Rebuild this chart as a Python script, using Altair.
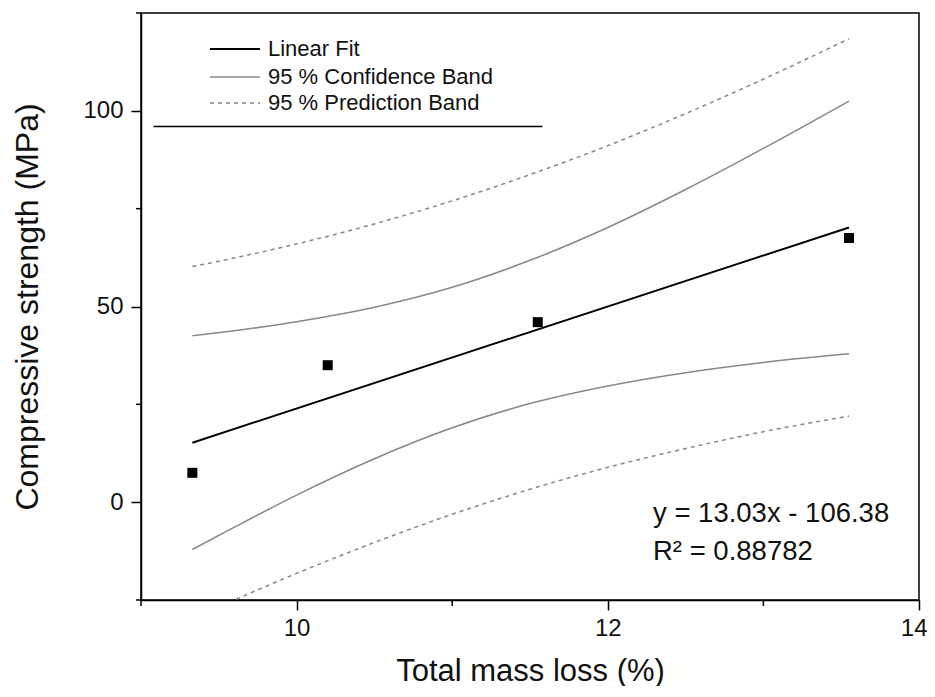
import altair as alt
import pandas as pd

# ---- data ----
mass_loss = [9.33, 10.2, 11.55, 13.55]
strength = [7.5, 35.0, 46.0, 67.5]

fit_x = [9.33, 13.55]
fit_y = [15.2, 70.2]

band_x = [9.33, 9.6, 10.0, 10.5, 11.0, 11.5, 12.0, 12.5, 13.0, 13.55]
conf_upper = [42.5, 43.8, 46.1, 49.8, 54.9, 61.8, 70.2, 79.9, 90.4, 102.5]
conf_lower = [-12.1, -6.4, 1.8, 11.1, 19.0, 25.2, 29.7, 33.1, 35.7, 37.9]
pred_upper = [60.2, 62.4, 66.0, 71.1, 77.0, 83.7, 91.1, 99.3, 108.1, 118.4]
pred_lower = [-29.8, -25.0, -18.2, -10.3, -3.1, 3.3, 8.9, 13.7, 18.0, 22.0]

divider_x = [9.08, 11.58]
divider_y = 96.0

x_major = [10, 12, 14]
x_minor = [9, 11, 13]
y_major = [0, 50, 100]
y_minor = [-25, 25, 75, 125]

legend_labels = ["Linear Fit", "95 % Confidence Band", "95 % Prediction Band"]
eq_text = "y = 13.03x - 106.38"
r2_text = "R\u00b2 = 0.88782"

x_title = "Total mass loss (%)"
y_title = "Compressive strength (MPa)"

FONT = "Liberation Sans"
GRAY = "#888888"

# ---- tables ----
pts = pd.DataFrame({"x": mass_loss, "y": strength})
fit = pd.DataFrame({"x": fit_x, "y": fit_y})
conf = pd.concat([
    pd.DataFrame({"x": band_x, "y": conf_upper, "part": "upper"}),
    pd.DataFrame({"x": band_x, "y": conf_lower, "part": "lower"}),
])
pred = pd.concat([
    pd.DataFrame({"x": band_x, "y": pred_upper, "part": "upper"}),
    pd.DataFrame({"x": band_x, "y": pred_lower, "part": "lower"}),
])
divider = pd.DataFrame({"x": [divider_x[0]], "x2": [divider_x[1]], "y": [divider_y]})
minor_x = pd.DataFrame({"x": x_minor})
minor_y = pd.DataFrame({"y": y_minor})

xs = alt.Scale(domain=[9, 14], nice=False, zero=False)
ys = alt.Scale(domain=[-25, 125], nice=False, zero=False)

x_axis = alt.Axis(values=x_major, tickSize=10, tickWidth=1.5, labelFontSize=24,
                  labelPadding=6, labelFlush=True, labelFlushOffset=8,
                  titleFontSize=31, titlePadding=16,
                  grid=False, domainColor="black", domainWidth=1.5, tickColor="black",
                  labelColor="#111", titleColor="#111", titleFontWeight="normal",
                  labelFont=FONT, titleFont=FONT)
y_axis = alt.Axis(values=y_major, tickSize=10, tickWidth=1.5, labelFontSize=24,
                  labelPadding=8, labelFlush=False, titleFontSize=32, titlePadding=38,
                  grid=False, domainColor="black", domainWidth=1.5, tickColor="black",
                  labelColor="#111", titleColor="#111", titleFontWeight="normal",
                  labelFont=FONT, titleFont=FONT)


def X():
    return alt.X("x:Q", scale=xs, axis=x_axis, title=x_title)


def Y():
    return alt.Y("y:Q", scale=ys, axis=y_axis, title=y_title)


fit_layer = alt.Chart(fit).mark_line(color="black", strokeWidth=2, clip=True).encode(
    x=X(), y=Y())

conf_layer = alt.Chart(conf).mark_line(color=GRAY, strokeWidth=1.5, clip=True,
                                       interpolate="monotone").encode(
    x=X(), y=Y(), detail="part:N")

pred_layer = alt.Chart(pred).mark_line(color=GRAY, strokeWidth=1.5, strokeDash=[4, 4],
                                       clip=True, interpolate="monotone").encode(
    x=X(), y=Y(), detail="part:N")

pts_layer = alt.Chart(pts).mark_square(color="black", opacity=1, size=100).encode(
    x=X(), y=Y())

divider_layer = alt.Chart(divider).mark_rule(color="black", strokeWidth=1.5).encode(
    x=X(), x2="x2:Q", y=Y())

minor_x_layer = alt.Chart(minor_x).mark_rule(color="black", strokeWidth=1.5).encode(
    x=X(), y=alt.value(587), y2=alt.value(593))

minor_y_layer = alt.Chart(minor_y).mark_rule(color="black", strokeWidth=1.5).encode(
    y=Y(), x=alt.value(0), x2=alt.value(-5))

one = pd.DataFrame({"k": [0]})
legend_rows = [36, 64, 90]
legend_styles = [
    dict(color="black", strokeWidth=2),
    dict(color=GRAY, strokeWidth=1.5),
    dict(color=GRAY, strokeWidth=1.5, strokeDash=[4, 4]),
]
legend_layers = []
for lab, yy, sty in zip(legend_labels, legend_rows, legend_styles):
    legend_layers.append(
        alt.Chart(one).mark_rule(**sty).encode(
            x=alt.value(69), x2=alt.value(119), y=alt.value(yy)))
    legend_layers.append(
        alt.Chart(one).mark_text(align="left", baseline="middle", fontSize=22,
                                 font=FONT, color="#111").encode(
            x=alt.value(127), y=alt.value(yy), text=alt.value(lab)))

eq_layer = alt.Chart(one).mark_text(align="left", baseline="alphabetic", fontSize=27.5,
                                    font=FONT, color="#111").encode(
    x=alt.value(512), y=alt.value(509), text=alt.value(eq_text))
r2_layer = alt.Chart(one).mark_text(align="left", baseline="alphabetic", fontSize=27.5,
                                    font=FONT, color="#111").encode(
    x=alt.value(512), y=alt.value(547), text=alt.value(r2_text))

chart = alt.layer(
    fit_layer, conf_layer, pred_layer, pts_layer, divider_layer,
    minor_x_layer, minor_y_layer, *legend_layers, eq_layer, r2_layer,
).properties(
    width=778, height=587,
    autosize=alt.AutoSizeParams(type="none"),
    padding={"left": 133, "top": 5, "right": 8, "bottom": 86},
).configure(
    font=FONT, background="white"
).configure_view(
    stroke="black", strokeWidth=1.5
)

chart.save("out.html", embed_options={"renderer": "svg", "actions": False})
